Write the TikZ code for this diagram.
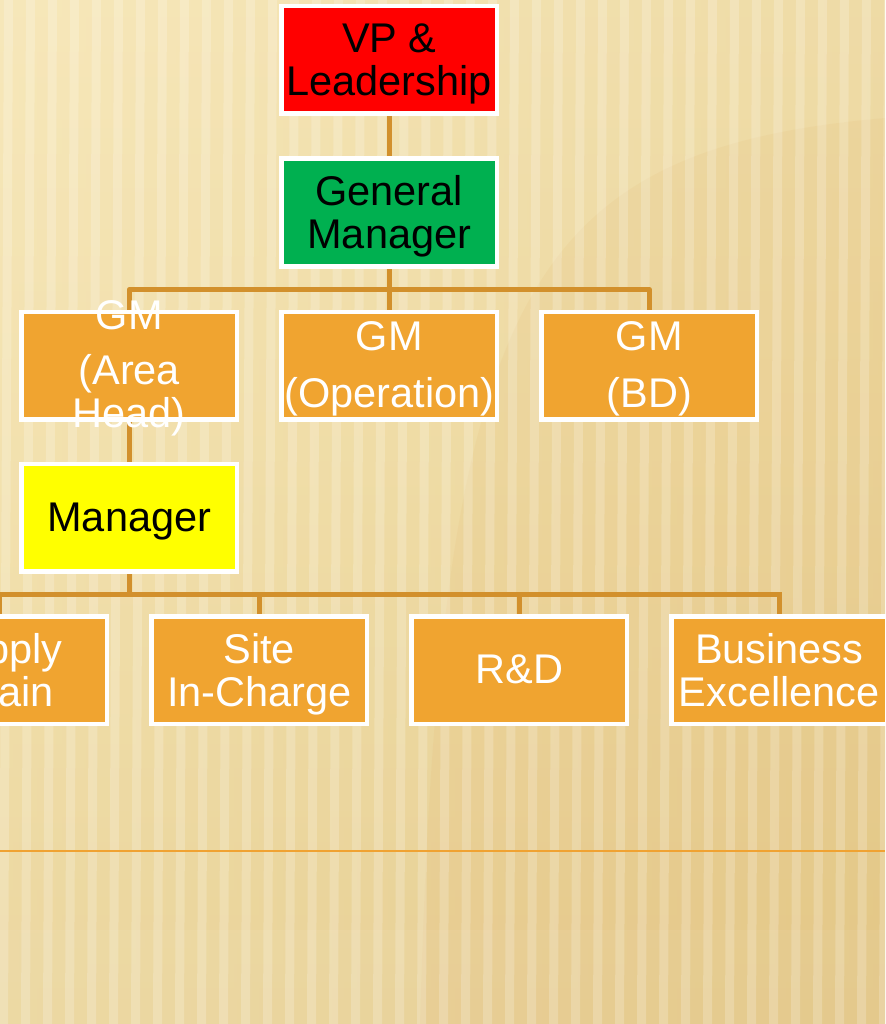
\documentclass[tikz,border=0pt]{standalone}
\usepackage{fontspec}
\setmainfont{Liberation Sans}
\usetikzlibrary{positioning}
\pgfdeclarelayer{bg}
\pgfdeclarelayer{lines}
\pgfsetlayers{bg,lines,main}
\definecolor{bgA}{RGB}{252,239,198}
\definecolor{bgB}{RGB}{228,203,140}
\definecolor{bgM}{RGB}{242,224,170}
\definecolor{conn}{RGB}{210,144,44}
\definecolor{boxorange}{RGB}{240,164,48}
\definecolor{boxred}{RGB}{255,0,0}
\definecolor{boxgreen}{RGB}{0,176,80}
\definecolor{boxyellow}{RGB}{255,255,0}
\definecolor{rule}{RGB}{240,162,50}
\tikzset{
  x=1pt, y=-1pt,
  boxfont/.style={font=\fontsize{41.5}{43}\selectfont, text depth=1.5pt},
  orgbox/.style={draw=white, line width=4.5pt, rectangle, inner sep=0pt, outer sep=0pt,
    minimum width=215.5pt, minimum height=107.5pt, align=center, boxfont},
  obox/.style={orgbox, fill=boxorange, text=white},
  link/.style={draw=conn, line width=5pt},
}
\begin{document}
\begin{tikzpicture}
\useasboundingbox (0,0) rectangle (885,1024);
\begin{pgfonlayer}{bg}
  \shade[top color=bgA, bottom color=bgB, middle color=bgM] (0,0) rectangle (885,1024);
  \fill[bgB, fill opacity=0.3] (0,0) rectangle (885,1024);
  \shade[left color=bgA, right color=bgB, opacity=0.35] (0,0) rectangle (885,1024);
  \fill[brown!60!orange, fill opacity=0.05] (420,1024) .. controls (440,300) and (520,150) .. (885,118) -- (885,1024) -- cycle;
  \fill[white, fill opacity=0.05] (0,930) rectangle (885,1024);
  \foreach \sx in {4,26,...,885} {
    \fill[white, fill opacity=0.2] (\sx,0) -- (\sx+9,0) -- (\sx+4,1024) -- (\sx-5,1024) -- cycle;
  }
  \draw[rule, line width=2pt] (0,851) -- (885,851);
\end{pgfonlayer}

\node[orgbox, fill=boxred] (vp) at (389.3,60) {VP \&\\Leadership};
\node[orgbox, fill=boxgreen] (gm) at (389.3,212.5) {General\\Manager};
\node[obox] (area) at (129.3,365.5) {};
\node[obox] (oper) at (389.3,365.5) {GM\\[14pt](Operation)};
\node[obox] (bd) at (649.3,365.5) {GM\\[14pt](BD)};
\node[boxfont, text=white, align=center, inner sep=0pt] (areatext) at (129.3,364.5) {GM\\[12pt](Area\\Head)};
\node[orgbox, fill=boxyellow] (mgr) at (129.3,517.8) {Manager};
\node[obox] (sc) at (-0.7,670.3) {Supply\\Chain};
\node[obox] (site) at (259.3,670.3) {Site\\In-Charge};
\node[obox] (rd) at (519.3,670.3) {R\&D};
\node[obox] (be) at (779.3,670.3) {Business\\Excellence};

\coordinate (j1) at (389.3,289.5);
\coordinate (j2) at (129.3,594);

\begin{pgfonlayer}{lines}
  \draw[link] (vp.south) -- (gm.north);
  \draw[link] (gm.south) -- (j1);
  \draw[link, line join=round] (area.north) |- (j1) -| (bd.north);
  \draw[link] (j1) -- (oper.north);
  \draw[link] (mgr.north) -- (area.south);
  \draw[link] (mgr.south) -- (j2);
  \draw[link] (sc.north) |- (j2) -| (be.north);
  \draw[link] (site.north) |- (j2);
  \draw[link] (rd.north) |- (j2);
\end{pgfonlayer}
\end{tikzpicture}
\end{document}
